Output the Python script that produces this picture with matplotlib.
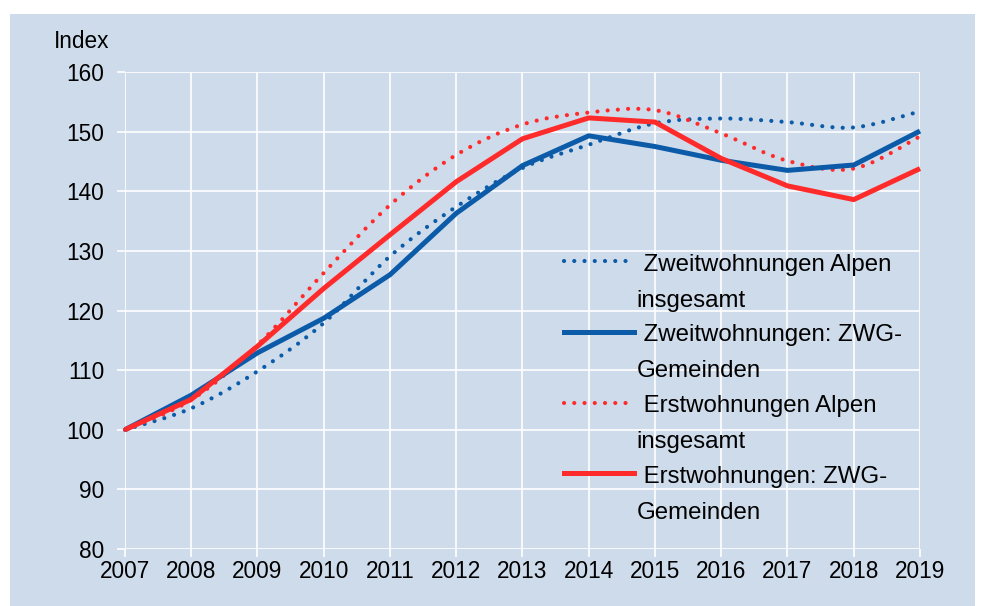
import matplotlib
matplotlib.use("Agg")
import matplotlib.pyplot as plt
from matplotlib.path import Path
from matplotlib.patches import PathPatch, Rectangle
from matplotlib.lines import Line2D
from matplotlib.legend_handler import HandlerLine2D
import numpy as np

plt.rcParams['font.family'] = ['Liberation Sans', 'DejaVu Sans']

years = list(range(2007, 2020))
zw_alpen = [100, 103.6, 109.8, 117.9, 129.1, 137.4, 143.9, 147.8, 151.4, 152.2, 151.6, 150.7, 153.4]
zw_zwg = [100, 105.8, 112.9, 118.7, 126.0, 136.3, 144.3, 149.3, 147.5, 145.2, 143.5, 144.4, 150.1]
ew_alpen = [100, 105.0, 114.2, 126.3, 137.7, 146.1, 151.2, 153.2, 153.6, 149.7, 145.1, 143.8, 149.2]
ew_zwg = [100, 105.1, 114.0, 123.7, 132.7, 141.6, 148.8, 152.3, 151.6, 145.5, 140.9, 138.6, 143.8]

labels = [" Zweitwohnungen Alpen\ninsgesamt",
          " Zweitwohnungen: ZWG-\nGemeinden",
          " Erstwohnungen Alpen\ninsgesamt",
          " Erstwohnungen: ZWG-\nGemeinden"]

BLUE = "#0b5ba8"
RED = "#ff2b2b"
BG = "#cedbeb"
FS = 16.3
LFS = 17.3
LSP = 1.82

W, H = 984, 606
fig = plt.figure(figsize=(W / 100, H / 100), dpi=100)
fig.patch.set_facecolor("white")
fig.patches.append(Rectangle((10 / W, 0), (975 - 10) / W, (606 - 14) / H,
                             transform=fig.transFigure, facecolor=BG,
                             edgecolor="none", zorder=-10))

ax = fig.add_axes([125 / W, (606 - 549) / H, (920 - 125) / W, (549 - 72) / H])
ax.set_facecolor(BG)
for s in ax.spines.values():
    s.set_visible(False)
ax.set_xlim(2007, 2019)
ax.set_ylim(80, 160)
ax.set_xticks(years)
ax.set_yticks(range(80, 161, 10))
ax.grid(True, color="white", linewidth=1.2)
ax.set_axisbelow(True)
ax.tick_params(axis="both", colors="white", length=6, width=1.2,
               labelcolor="black", labelsize=FS)
ax.tick_params(axis="y", pad=9)
ax.tick_params(axis="x", pad=2)


def smooth_patch(x, y, color, lw, ls):
    x = np.asarray(x, float)
    y = np.asarray(y, float)
    n = len(x)
    verts = [(x[0], y[0])]
    codes = [Path.MOVETO]
    for i in range(n - 1):
        x0, y0 = (x[i - 1], y[i - 1]) if i > 0 else (x[i], y[i])
        x3, y3 = (x[i + 2], y[i + 2]) if i + 2 < n else (x[i + 1], y[i + 1])
        c1 = (x[i] + (x[i + 1] - x0) / 6, y[i] + (y[i + 1] - y0) / 6)
        c2 = (x[i + 1] - (x3 - x[i]) / 6, y[i + 1] - (y3 - y[i]) / 6)
        verts += [c1, c2, (x[i + 1], y[i + 1])]
        codes += [Path.CURVE4] * 3
    p = PathPatch(Path(verts, codes), facecolor="none", edgecolor=color,
                  linewidth=lw, linestyle=ls, capstyle="round", clip_on=False)
    ax.add_patch(p)


dot = (0, (0.01, 2.45))
smooth_patch(years, zw_alpen, BLUE, 3.0, dot)
ax.plot(years, zw_zwg, color=BLUE, lw=3.6, clip_on=False, solid_capstyle="butt")
smooth_patch(years, ew_alpen, RED, 3.0, dot)
ax.plot(years, ew_zwg, color=RED, lw=3.6, clip_on=False, solid_capstyle="butt")


class UpHandler(HandlerLine2D):
    def __init__(self, dy, **kw):
        super().__init__(**kw)
        self.dy = dy

    def create_artists(self, legend, orig_handle, xdescent, ydescent, width,
                       height, fontsize, trans):
        arts = super().create_artists(legend, orig_handle, xdescent, ydescent,
                                      width, height, fontsize, trans)
        for a in arts:
            a.set_ydata(np.asarray(a.get_ydata()) + self.dy)
        return arts


handles = [Line2D([], [], color=BLUE, lw=3.0, ls=dot, dash_capstyle="round"),
           Line2D([], [], color=BLUE, lw=3.6),
           Line2D([], [], color=RED, lw=3.0, ls=dot, dash_capstyle="round"),
           Line2D([], [], color=RED, lw=3.6)]
up = UpHandler(15.5)
leg = ax.legend(handles, labels, loc="upper left",
                bbox_to_anchor=(547 / W, (606 - 237) / H),
                bbox_transform=fig.transFigure, frameon=False,
                fontsize=LFS, handlelength=2.9, handletextpad=0.13,
                labelspacing=0.53, borderpad=0.2,
                handler_map={h: up for h in handles})
for t in leg.get_texts():
    t.set_linespacing(LSP)

fig.text(109 / W, (606 - 42) / H, "Index", fontsize=FS, ha="right", va="center")

fig.savefig("out.png", dpi=100)
